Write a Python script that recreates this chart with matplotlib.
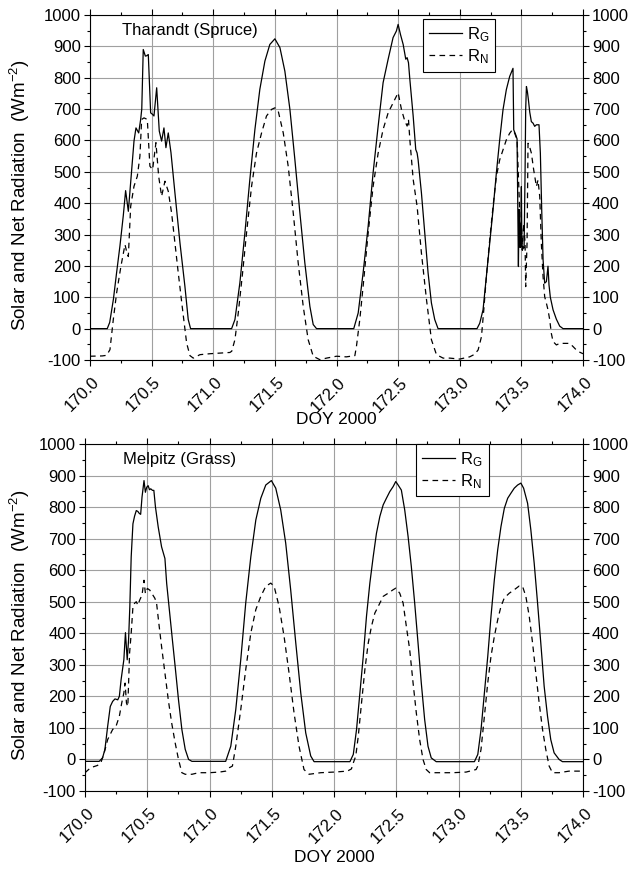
import matplotlib
matplotlib.use("Agg")
import matplotlib.pyplot as plt
import matplotlib.transforms as mtransforms
from matplotlib.ticker import MultipleLocator, FormatStrFormatter

plt.rcParams['font.family'] = ['Liberation Sans', 'DejaVu Sans']
plt.rcParams['mathtext.fontset'] = 'custom'
plt.rcParams['mathtext.rm'] = 'Liberation Sans'
plt.rcParams['mathtext.it'] = 'Liberation Sans:italic'
plt.rcParams['mathtext.default'] = 'regular'
plt.rcParams['axes.unicode_minus'] = False
plt.rcParams['font.size'] = 12

# ---------------- Tharandt (Spruce) ----------------
tha_rg_t = [170.00, 170.14, 170.16, 170.19, 170.216, 170.243, 170.27, 170.289, 170.311, 170.33,
            170.357, 170.373, 170.385, 170.395, 170.411, 170.42, 170.432, 170.449, 170.46, 170.473,
            170.492, 170.505, 170.519, 170.541, 170.562, 170.581, 170.60, 170.616, 170.635, 170.657,
            170.689, 170.73, 170.77, 170.797, 170.816,
            171.149, 171.176, 171.216, 171.257, 171.297, 171.338, 171.378, 171.419, 171.459, 171.50,
            171.541, 171.581, 171.622, 171.662, 171.703, 171.743, 171.784, 171.811, 171.838,
            172.14, 172.176, 172.216, 172.257, 172.297, 172.338, 172.378, 172.419, 172.459, 172.486,
            172.50, 172.519, 172.541, 172.562, 172.573, 172.584, 172.595, 172.622, 172.643, 172.654,
            172.662, 172.689, 172.716, 172.743, 172.77, 172.797, 172.824,
            173.14, 173.162, 173.189, 173.216, 173.243, 173.27, 173.297, 173.324, 173.351, 173.378,
            173.405, 173.432, 173.438, 173.454, 173.465, 173.470, 173.476, 173.481, 173.484, 173.489,
            173.495, 173.500, 173.503, 173.508, 173.516, 173.522, 173.530, 173.535, 173.541, 173.549,
            173.557, 173.568, 173.581, 173.595, 173.608, 173.622, 173.643, 173.654, 173.665, 173.676,
            173.689, 173.703, 173.716, 173.724, 173.735, 173.757, 173.784, 173.811, 173.838, 174.0]
tha_rg = [0, 0, 20, 94, 179, 264, 360, 440, 374, 466,
          598, 640, 631, 624, 667, 700, 890, 869, 870, 874,
          688, 684, 678, 768, 630, 598, 640, 577, 624, 561,
          433, 273, 135, 29, 0,
          0, 29, 146, 306, 476, 635, 763, 853, 906, 924,
          896, 821, 699, 540, 369, 210, 71, 13, 0,
          0, 50, 178, 327, 497, 646, 784, 859, 928, 949,
          970, 938, 906, 859, 864, 848, 795, 678, 571, 560,
          539, 433, 305, 178, 82, 29, 0,
          0, 17, 60, 166, 272, 379, 496, 602, 698, 762,
          804, 830, 634, 618, 605, 421, 198, 380, 260, 330,
          260, 453, 300, 250, 260, 257, 500, 700, 772, 755,
          730, 690, 660, 655, 645, 650, 650, 560, 379, 220,
          145, 150, 199, 140, 100, 60, 30, 8, 0, 0]

tha_rn_t = [170.00, 170.10, 170.135, 170.162, 170.189, 170.216, 170.251, 170.284, 170.30, 170.311,
            170.33, 170.357, 170.384, 170.405, 170.419, 170.438, 170.465, 170.486, 170.508, 170.535,
            170.557, 170.581, 170.608, 170.635, 170.662, 170.689, 170.716, 170.751, 170.784, 170.811,
            170.838, 170.892, 170.973, 171.054, 171.135,
            171.15, 171.176, 171.203, 171.238, 171.27, 171.311, 171.351, 171.392, 171.432, 171.473,
            171.50, 171.527, 171.568, 171.608, 171.649, 171.689, 171.73, 171.77, 171.811, 171.865,
            171.919, 172.0, 172.08, 172.149,
            172.162, 172.189, 172.216, 172.257, 172.297, 172.338, 172.378, 172.419, 172.459, 172.50,
            172.527, 172.554, 172.573, 172.584, 172.595, 172.622, 172.654, 172.689, 172.73, 172.77,
            172.811, 172.865, 172.919, 173.0, 173.08, 173.12,
            173.149, 173.176, 173.195, 173.216, 173.243, 173.27, 173.297, 173.324, 173.351, 173.378,
            173.405, 173.427, 173.446, 173.465, 173.476, 173.486, 173.492, 173.50, 173.508, 173.519,
            173.530, 173.535, 173.546, 173.554, 173.562, 173.581, 173.60, 173.622, 173.635, 173.649,
            173.662, 173.676, 173.689, 173.703, 173.716, 173.730, 173.743, 173.757, 173.784, 173.811,
            173.851, 173.892, 173.919, 173.946, 173.973, 174.0]
tha_rn = [-88, -87, -85, -67, 29, 114, 199, 268, 241, 230,
          390, 454, 486, 550, 667, 672, 667, 518, 507, 593,
          486, 422, 470, 438, 369, 273, 178, 61, -46, -86,
          -94, -83, -80, -78, -76,
          -72, -35, 50, 178, 305, 454, 560, 624, 678, 699,
          704, 694, 624, 518, 369, 210, 71, -35, -88, -99,
          -94, -88, -90, -86,
          -56, 29, 135, 305, 454, 560, 635, 688, 720, 752,
          699, 662, 646, 667, 603, 476, 390, 241, 93, -35,
          -83, -94, -94, -97, -90, -82,
          -68, -26, 60, 166, 283, 389, 485, 538, 570, 602,
          623, 634, 623, 602, 485, 379, 251, 336, 251, 336,
          272, 134, 272, 591, 586, 560, 506, 453, 474, 421,
          272, 166, 102, 81, 60, 28, -15, -41, -52, -47,
          -47, -47, -57, -68, -75, -80]

# ---------------- Melpitz (Grass) ----------------
mel_rg_t = [170.00, 170.114, 170.141, 170.16, 170.182, 170.203, 170.222, 170.241, 170.263, 170.276,
            170.29, 170.312, 170.325, 170.339, 170.35, 170.36, 170.371, 170.385, 170.398, 170.412,
            170.425, 170.436, 170.447, 170.458, 170.474, 170.485, 170.496, 170.507, 170.518, 170.528,
            170.542, 170.553, 170.566, 170.588, 170.615, 170.642, 170.656, 170.683, 170.702, 170.724,
            170.751, 170.778, 170.805, 170.832, 170.859,
            171.13, 171.171, 171.211, 171.251, 171.291, 171.332, 171.372, 171.412, 171.452, 171.497,
            171.532, 171.572, 171.612, 171.652, 171.693, 171.733, 171.773, 171.813, 171.84,
            172.128, 172.155, 172.181, 172.208, 172.235, 172.261, 172.288, 172.315, 172.341, 172.368,
            172.395, 172.421, 172.448, 172.475, 172.496, 172.515, 172.541, 172.568, 172.595, 172.621,
            172.648, 172.675, 172.701, 172.728, 172.755, 172.781, 172.821,
            173.128, 173.155, 173.181, 173.208, 173.235, 173.261, 173.288, 173.315, 173.341, 173.368,
            173.395, 173.421, 173.448, 173.475, 173.501, 173.523, 173.555, 173.581, 173.608, 173.635,
            173.661, 173.688, 173.715, 173.741, 173.768, 173.808, 173.835, 174.0]
mel_rg = [-6, -6, 5, 32, 105, 168, 184, 192, 189, 200,
          253, 316, 402, 316, 379, 484, 642, 747, 771, 789,
          786, 780, 777, 832, 884, 847, 863, 868, 855, 858,
          853, 853, 800, 737, 674, 637, 558, 453, 379, 295,
          189, 95, 32, 0, -6,
          -6, 42, 158, 316, 496, 643, 759, 828, 870, 884,
          860, 791, 686, 538, 369, 211, 84, 11, -7,
          -7, 16, 95, 211, 327, 454, 559, 643, 717, 770,
          807, 828, 849, 865, 881, 870, 854, 791, 707, 612,
          496, 369, 243, 127, 42, 5, -7,
          -7, 16, 95, 211, 327, 454, 570, 665, 738, 796,
          828, 844, 860, 870, 876, 860, 812, 728, 622, 496,
          369, 232, 137, 63, 21, 0, -7, -7]

mel_rn_t = [170.00, 170.046, 170.100, 170.127, 170.154, 170.182, 170.222, 170.249, 170.276, 170.295,
            170.312, 170.322, 170.333, 170.344, 170.358, 170.371, 170.385, 170.398, 170.412, 170.425,
            170.439, 170.458, 170.474, 170.485, 170.501, 170.52, 170.534, 170.561, 170.575, 170.593,
            170.615, 170.642, 170.669, 170.696, 170.724, 170.751, 170.778, 170.805, 170.859, 170.913,
            171.0, 171.08, 171.13, 171.16,
            171.184, 171.211, 171.251, 171.291, 171.332, 171.372, 171.412, 171.452, 171.492, 171.519,
            171.559, 171.599, 171.639, 171.679, 171.719, 171.759, 171.80, 171.893, 172.0, 172.107,
            172.14,
            172.155, 172.175, 172.195, 172.221, 172.248, 172.275, 172.301, 172.328, 172.355, 172.395,
            172.435, 172.475, 172.496, 172.528, 172.555, 172.581, 172.608, 172.635, 172.661, 172.688,
            172.715, 172.741, 172.768, 172.848, 172.955, 173.061, 173.141,
            173.155, 173.181, 173.208, 173.235, 173.261, 173.288, 173.315, 173.341, 173.368, 173.408,
            173.448, 173.488, 173.515, 173.541, 173.568, 173.595, 173.621, 173.648, 173.675, 173.701,
            173.728, 173.755, 173.808, 173.888, 174.0]
mel_rn = [-42, -26, -19, -11, 21, 63, 95, 105, 137, 179,
          211, 242, 179, 168, 337, 400, 484, 495, 500, 489,
          505, 521, 568, 526, 542, 537, 528, 511, 495, 432,
          358, 274, 189, 116, 53, 0, -42, -47, -47, -42,
          -42, -40, -37, -26,
          -21, 42, 158, 285, 401, 475, 517, 549, 559, 549,
          485, 390, 274, 148, 42, -32, -47, -42, -40, -37,
          -30,
          -11, 11, 74, 179, 285, 369, 422, 464, 485, 517,
          527, 538, 543, 527, 496, 422, 348, 243, 148, 63,
          0, -32, -42, -42, -42, -40, -32,
          -21, 32, 137, 243, 327, 390, 443, 485, 512, 527,
          538, 550, 548, 517, 454, 369, 274, 179, 95, 32,
          -21, -42, -42, -37, -37]

panels = [
    ("Tharandt (Spruce)", tha_rg_t, tha_rg, tha_rn_t, tha_rn),
    ("Melpitz (Grass)", mel_rg_t, mel_rg, mel_rn_t, mel_rn),
]

W, H = 634, 869
fig = plt.figure(figsize=(W / 100, H / 100), dpi=100)

# axes boxes in pixels: left, top, right, bottom
boxes = [(90, 15, 583, 360), (85, 444, 583, 791)]
legend_anchor = [(0.675, 0.988), (0.665, 1.0)]
xlabel_top_px = [412, 850]
title_x = [0.065, 0.076]
ylabel_right_px = 32

# nudge for the rotated day labels (points)
label_shift = mtransforms.ScaledTranslation(1 / 72, -4 / 72, fig.dpi_scale_trans)

for i, (name, t_rg, rg, t_rn, rn) in enumerate(panels):
    l, t, r, b = boxes[i]
    ax = fig.add_axes([l / W, 1 - b / H, (r - l) / W, (b - t) / H])

    ax.plot(t_rg, rg, color='black', lw=0.9, label='R$_G$', zorder=3)
    ax.plot(t_rn, rn, color='black', lw=0.9, ls=(0, (4.5, 3.5)), label='R$_N$', zorder=3)

    ax.set_xlim(170.0, 174.0)
    ax.set_ylim(-100, 1000)
    ax.xaxis.set_major_locator(MultipleLocator(0.5))
    ax.xaxis.set_minor_locator(MultipleLocator(0.25))
    ax.yaxis.set_major_locator(MultipleLocator(100))
    ax.yaxis.set_minor_locator(MultipleLocator(50))
    ax.xaxis.set_major_formatter(FormatStrFormatter('%.1f'))

    ax.grid(True, which='major', color='#a0a0a0', lw=0.8, zorder=0)
    ax.set_axisbelow(True)

    ax.tick_params(which='both', direction='out', top=True, right=True,
                   labelright=True, labelsize=12, width=0.8, color='black', pad=2)
    ax.tick_params(which='major', length=4.5)
    ax.tick_params(which='minor', length=2.5)
    for lab in ax.get_xticklabels():
        lab.set_rotation(45)
        lab.set_ha('right')
        lab.set_va('top')
        lab.set_rotation_mode('anchor')
        lab.set_transform(lab.get_transform() + label_shift)

    for sp in ax.spines.values():
        sp.set_linewidth(0.8)
        sp.set_color('black')

    ax.set_xlabel('DOY 2000', fontsize=12.5)
    ax.xaxis.set_label_coords(0.5, (b - xlabel_top_px[i]) / (b - t))
    ax.set_ylabel('Solar and Net Radiation  (Wm$^{-2}$)', fontsize=13.5)
    ax.yaxis.set_label_coords((ylabel_right_px - l) / (r - l), 0.5 - 7.5 / (b - t))

    ax.text(title_x[i], 0.954, name, transform=ax.transAxes,
            ha='left', va='center', fontsize=12)

    leg = ax.legend(loc='upper left', bbox_to_anchor=legend_anchor[i], borderaxespad=0,
                    fancybox=False, framealpha=1, edgecolor='black', fontsize=12,
                    handlelength=2.0, handletextpad=0.3, labelspacing=0.2,
                    borderpad=0.35)
    leg.get_frame().set_linewidth(0.8)

fig.savefig('out.png', dpi=100)
